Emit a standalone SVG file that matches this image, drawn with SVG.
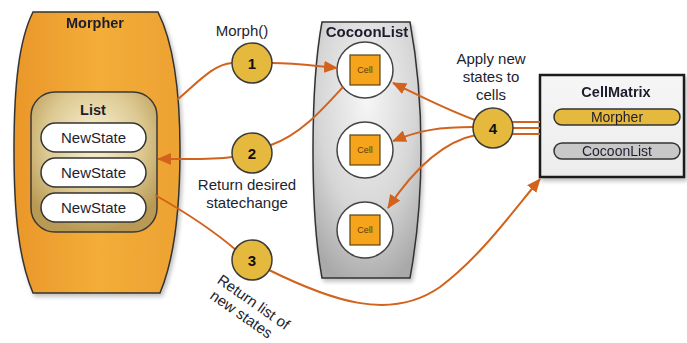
<svg xmlns="http://www.w3.org/2000/svg" width="687" height="343" viewBox="0 0 687 343">
  <defs>
    <linearGradient id="orangeBody" x1="0" y1="0" x2="1" y2="0">
      <stop offset="0" stop-color="#ea972a"/>
      <stop offset="0.5" stop-color="#f3ad38"/>
      <stop offset="1" stop-color="#eda232"/>
    </linearGradient>
    <radialGradient id="listFill" cx="0.5" cy="0.35" r="0.65">
      <stop offset="0" stop-color="#fbf3d8"/>
      <stop offset="0.6" stop-color="#dcc890"/>
      <stop offset="1" stop-color="#b89a55"/>
    </radialGradient>
    <radialGradient id="grayFill" cx="0.5" cy="0.3" r="0.75">
      <stop offset="0" stop-color="#f6f6f6"/>
      <stop offset="0.6" stop-color="#d6d6d6"/>
      <stop offset="1" stop-color="#a9a9a9"/>
    </radialGradient>
    <linearGradient id="boxFill" x1="0" y1="0" x2="0" y2="1">
      <stop offset="0" stop-color="#f6f6f6"/>
      <stop offset="1" stop-color="#ececec"/>
    </linearGradient>
    <filter id="shadow" x="-10%" y="-10%" width="130%" height="130%">
      <feGaussianBlur in="SourceAlpha" stdDeviation="2"/>
      <feOffset dx="2" dy="3"/>
      <feComponentTransfer><feFuncA type="linear" slope="0.25"/></feComponentTransfer>
      <feMerge><feMergeNode/><feMergeNode in="SourceGraphic"/></feMerge>
    </filter>
    <marker id="arrow" markerUnits="userSpaceOnUse" markerWidth="14" markerHeight="12" refX="13" refY="6" orient="auto">
      <path d="M0,0 L14,6 L0,12 Z" fill="#d2621c"/>
    </marker>
  </defs>
  <style>
    text { font-family: "Liberation Sans", Arial, sans-serif; fill: #1e1e2e; }
    .title { font-weight: bold; font-size: 14.5px; text-anchor: middle; }
    .label { font-size: 15px; text-anchor: middle; }
    .small { font-size: 14px; text-anchor: middle; }
    .pill { fill: #ffffff; stroke: #333; stroke-width: 1.5; }
    .cellRing { fill: #ffffff; stroke: #444; stroke-width: 1.5; }
    .cellBox { fill: #f5a41c; stroke: #5e4310; stroke-width: 1.2; }
    .cellText { font-size: 9px; text-anchor: middle; fill: #5a3a10; }
    .step { fill: #e5b93d; stroke: #3a3a3a; stroke-width: 1.5; }
    .stepText { font-weight: bold; font-size: 15px; text-anchor: middle; fill: #111; }
    .conn { fill: none; stroke: #d2621c; stroke-width: 2; }
  </style>

  <!-- Morpher container holding the list of new states -->
  <g id="morpher" filter="url(#shadow)">
    <path d="M33,12 L158,12 C172,40 180,85 180,150 C180,215 174,260 160,293 L33,293 C19,260 14,215 14,150 C14,85 19,40 33,12 Z" fill="url(#orangeBody)" stroke="#333" stroke-width="1.5"/>
    <text class="title" x="95" y="28">Morpher</text>
  </g>

  <g id="list">
    <rect x="31" y="92" width="126" height="140" rx="24" ry="24" fill="url(#listFill)" stroke="#3a3a3a" stroke-width="1.5"/>
    <text class="title" x="93" y="115">List</text>
  </g>
  <g id="newstate1">
    <rect class="pill" x="41" y="123" width="105" height="29" rx="14.5"/>
    <text class="label" x="93.5" y="143">NewState</text>
  </g>
  <g id="newstate2">
    <rect class="pill" x="41" y="158" width="105" height="29" rx="14.5"/>
    <text class="label" x="93.5" y="178">NewState</text>
  </g>
  <g id="newstate3">
    <rect class="pill" x="41" y="193" width="105" height="29" rx="14.5"/>
    <text class="label" x="93.5" y="213">NewState</text>
  </g>

  <!-- CocoonList container -->
  <g id="cocoonlist" filter="url(#shadow)">
    <path d="M322,22 L410,22 C417,60 421,100 421,150 C421,200 417,240 410,278 L322,278 C315,240 313,200 313,150 C313,100 315,60 322,22 Z" fill="url(#grayFill)" stroke="#333" stroke-width="1.5"/>
    <text class="title" x="367" y="37" style="font-size:15px">CocoonList</text>
  </g>
  <g id="cell1">
    <circle class="cellRing" cx="365" cy="70" r="28"/>
    <rect class="cellBox" x="350" y="55" width="30" height="30"/>
    <text class="cellText" x="365" y="73">Cell</text>
  </g>
  <g id="cell2">
    <circle class="cellRing" cx="365" cy="150" r="28"/>
    <rect class="cellBox" x="350" y="135" width="30" height="30"/>
    <text class="cellText" x="365" y="153">Cell</text>
  </g>
  <g id="cell3">
    <circle class="cellRing" cx="365" cy="230" r="28"/>
    <rect class="cellBox" x="350" y="215" width="30" height="30"/>
    <text class="cellText" x="365" y="233">Cell</text>
  </g>

  <!-- CellMatrix box -->
  <g id="cellmatrix" filter="url(#shadow)">
    <rect x="540" y="75" width="144" height="102" fill="url(#boxFill)" stroke="#1a1a1a" stroke-width="2.5"/>
    <text class="title" x="616" y="97">CellMatrix</text>
    <rect x="554" y="109" width="126" height="16" rx="8" fill="#e5b93d" stroke="#333" stroke-width="1.5"/>
    <text class="small" x="617" y="122">Morpher</text>
    <rect x="554" y="143" width="126" height="16" rx="8" fill="#c8c8c8" stroke="#333" stroke-width="1.5"/>
    <text class="small" x="617" y="156">CocoonList</text>
  </g>

  <!-- Connectors -->
  <g id="connectors">
    <path class="conn" d="M177,100 C198,82 214,64 232,63"/>
    <path class="conn" d="M272,63 C295,63 315,66 337,68" marker-end="url(#arrow)"/>
    <path class="conn" d="M343,87 C322,110 300,135 271,145"/>
    <path class="conn" d="M232,157 C212,160 190,159 158,159" marker-end="url(#arrow)"/>
    <path class="conn" d="M155,195 C185,212 215,232 236,250"/>
    <path class="conn" d="M269,270 C330,300 390,322 440,287 C480,257 510,215 540,179" marker-end="url(#arrow)"/>
    <path class="conn" d="M475,120 C447,110 420,96 393,83" marker-end="url(#arrow)"/>
    <path class="conn" d="M474,127 C440,127 420,130 393,141" marker-end="url(#arrow)"/>
    <path class="conn" d="M476,135 C440,142 410,175 388,208" marker-end="url(#arrow)"/>
    <path class="conn" d="M511,122 L540,122"/>
    <path class="conn" d="M512,128 L540,128"/>
    <path class="conn" d="M511,134 L540,134"/>
  </g>

  <!-- Numbered steps -->
  <g id="step1">
    <circle class="step" cx="252" cy="63" r="20"/>
    <text class="stepText" x="252" y="68.5">1</text>
  </g>
  <g id="step2">
    <circle class="step" cx="252" cy="153" r="20"/>
    <text class="stepText" x="252" y="158.5">2</text>
  </g>
  <g id="step3">
    <circle class="step" cx="252" cy="260" r="20"/>
    <text class="stepText" x="252" y="265.5">3</text>
  </g>
  <g id="step4">
    <circle class="step" cx="493" cy="128" r="20"/>
    <text class="stepText" x="493" y="133.5">4</text>
  </g>

  <!-- Step labels -->
  <text class="label" x="242" y="36">Morph()</text>
  <text class="label" x="247" y="190">Return desired</text>
  <text class="label" x="247" y="208">statechange</text>
  <text class="label" x="491" y="64">Apply new</text>
  <text class="label" x="491" y="82">states to</text>
  <text class="label" x="491" y="100">cells</text>
  <g transform="translate(253,303) rotate(35)">
    <text class="label" x="0" y="4">Return list of</text>
    <text class="label" x="-3" y="21">new states</text>
  </g>
</svg>
